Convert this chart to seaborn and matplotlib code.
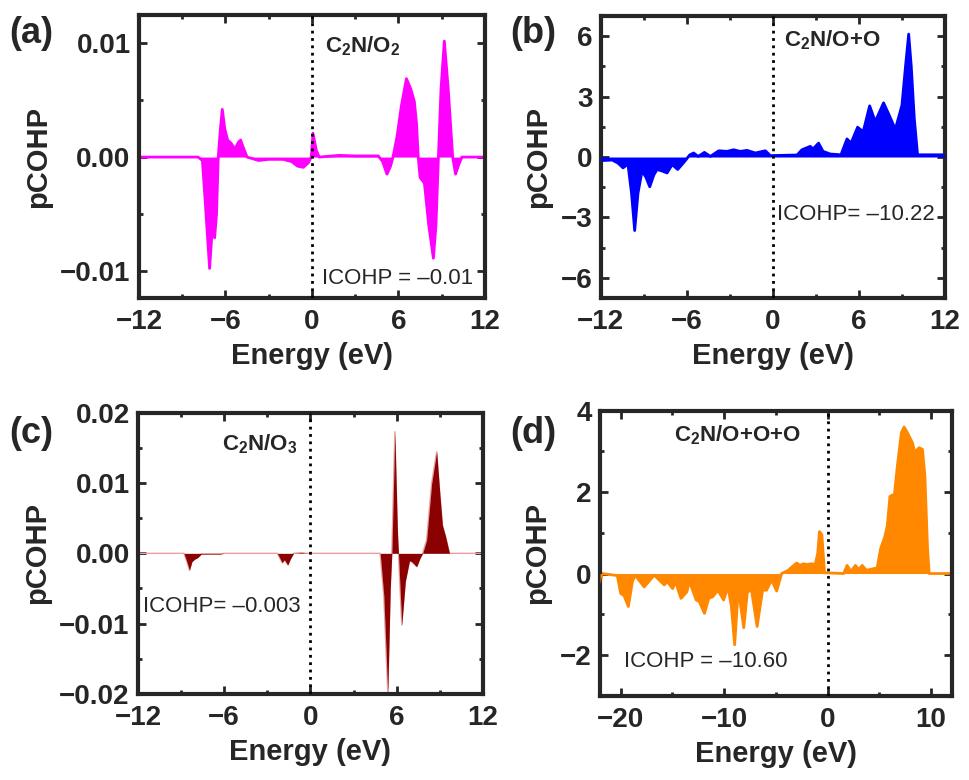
import numpy as np
import pandas as pd
import matplotlib
matplotlib.use('Agg')
import matplotlib.pyplot as plt
import seaborn as sns
from matplotlib.ticker import MultipleLocator

sns.set_style('ticks')
plt.rcParams['font.family'] = ['Liberation Sans', 'DejaVu Sans']
plt.rcParams['mathtext.fontset'] = 'custom'
plt.rcParams['mathtext.rm'] = 'Liberation Sans'
plt.rcParams['mathtext.bf'] = 'Liberation Sans:bold'

# (a) C2N/O2
energy_a = [-12, -7.9, -7.6, -7.4, -7.1, -6.9, -6.75, -6.62, -6.5, -6.35, -6.22, -6.05, -5.85,
            -5.6, -5.35, -5.1, -4.95, -4.75, -4.5, -3.7, -3.0, -2.0, -1.4, -1.0, -0.6, -0.25,
            -0.05, 0.07, 0.3, 0.5, 1.9, 3.0, 4.6, 4.9, 5.2, 5.45, 5.62, 5.9, 6.2, 6.55, 6.85,
            7.1, 7.25, 7.37, 7.5, 7.8, 8.1, 8.42, 8.6, 8.77, 8.95, 9.18, 9.45, 9.76, 9.96,
            10.2, 10.4, 12]
pcohp_a = [0, 0, -0.0003, -0.004, -0.0098, -0.006, -0.0071, -0.005, 0.0, 0.0025, 0.0042,
           0.0025, 0.0015, 0.0012, 0.0007, 0.0013, 0.0015, 0.0008, 0.0, -0.0003, -0.0002,
           -0.0002, -0.0004, -0.0008, -0.0009, -0.0005, 0.0, 0.0021, 0.0006, 0.0, 0.00015,
           0.0001, 0.0001, -0.0004, -0.0015, -0.0008, 0.0, 0.0018, 0.0045, 0.0069, 0.006,
           0.0049, 0.003, 0.0, -0.0018, -0.0023, -0.006, -0.0089, -0.006, 0.0, 0.006, 0.0102,
           0.006, 0.0, -0.0015, -0.0006, 0.0, 0]

# (b) C2N/O+O
energy_b = [-12, -11.2, -10.8, -10.44, -10.1, -9.85, -9.63, -9.4, -9.12, -8.85, -8.58, -8.3,
            -8.07, -7.7, -7.37, -7.02, -6.63, -6.1, -5.8, -5.52, -5.2, -4.77, -4.35, -3.77,
            -3.2, -2.73, -2.27, -1.8, -1.22, -0.52, -0.17, 1.69, 2.03, 2.61, 2.8, 3.19, 3.5,
            4.0, 4.75, 5.17, 5.45, 5.91, 6.3, 6.75, 7.14, 7.72, 8.1, 8.54, 9.0, 9.25, 9.47,
            9.65, 9.86, 10.09, 12]
pcohp_b = [-0.18, -0.15, -0.3, -0.54, -0.35, -1.8, -3.65, -1.8, -0.7, -1.0, -1.48, -0.9,
           -0.62, -0.7, -0.79, -0.38, -0.62, -0.18, 0.1, 0.2, 0.03, 0.23, 0.03, 0.31, 0.28,
           0.36, 0.28, 0.33, 0.2, 0.31, 0.07, 0.1, 0.36, 0.53, 0.4, 0.69, 0.28, 0.15, 0.11,
           0.9, 0.69, 1.48, 1.26, 2.54, 1.76, 2.69, 2.1, 1.38, 2.57, 4.5, 6.1, 4.5, 1.92,
           0.11, 0.11]

# (c) C2N/O3
energy_c = [-12, -8.8, -8.6, -8.42, -8.25, -8.07, -7.84, -7.6, -6.3, -6.0, -2.3, -1.97, -1.81,
            -1.58, -1.4, -1.18, -0.6, -0.3, 4.85, 5.1, 5.38, 5.55, 5.66, 5.87, 6.05, 6.12,
            6.35, 6.6, 6.89, 7.05, 7.39, 7.6, 7.8, 8.08, 8.43, 8.78, 9.0, 9.18, 9.4, 9.67, 12]
pcohp_c = [0, 0, -0.0012, -0.0024, -0.0012, -0.00085, -0.0006, -0.0001, -0.0001, 0, 0,
           -0.00133, -0.0009, -0.00166, -0.0008, 0, 0.0001, 0, 0, -0.006, -0.0199, -0.005, 0,
           0.0173, 0.003, 0, -0.0102, -0.004, -0.00105, -0.0012, -0.0019, -0.0008, 0, 0.0019,
           0.00995, 0.01445, 0.0085, 0.004, 0.0024, 0, 0]

# (d) C2N/O+O+O
energy_d = [-22, -21.8, -20.33, -20.0, -19.68, -19.26, -18.87, -18.61, -17.73, -16.76, -15.79,
            -15.5, -14.98, -14.7, -14.17, -13.6, -13.36, -12.7, -12.4, -11.9, -11.48, -11.1,
            -10.6, -10.05, -9.63, -9.3, -8.98, -8.66, -8.5, -8.1, -7.75, -7.35, -6.81, -6.28,
            -5.9, -5.41, -4.92, -4.44, -3.79, -3.63, -2.98, -2.66, -2.33, -2.0, -1.52, -1.2,
            -0.95, -0.78, -0.55, -0.29, 1.56, 1.89, 2.27, 2.69, 3.0, 3.35, 3.76, 4.8, 5.13,
            5.52, 5.78, 6.03, 6.26, 6.42, 6.75, 7.14, 7.4, 7.72, 8.21, 8.43, 8.85, 9.18, 9.41,
            9.67, 9.83, 12]
pcohp_d = [-0.25, 0, -0.05, -0.49, -0.54, -0.81, -0.2, -0.04, -0.33, -0.04, -0.28, -0.2,
           -0.37, -0.2, -0.61, -0.45, -0.19, -0.65, -0.69, -0.98, -0.61, -0.57, -0.41, -0.65,
           -0.33, -0.8, -1.75, -0.49, -0.6, -1.33, -0.45, -0.41, -1.3, -0.41, -0.41, -0.16,
           -0.43, 0.0, 0.08, 0.12, 0.26, 0.2, 0.24, 0.22, 0.24, 0.22, 0.5, 1.03, 0.95, 0.02,
           0.0, 0.2, 0.05, 0.2, 0.1, 0.2, 0.08, 0.14, 0.61, 0.89, 1.18, 1.89, 1.93, 1.83,
           2.64, 3.46, 3.6, 3.46, 3.21, 2.98, 3.09, 3.05, 2.4, 0.6, 0.0, 0.0]

fig = plt.figure(figsize=(9.69, 7.80), dpi=100)

panels = [
    dict(e=energy_a, p=pcohp_a, color='#FF00FF', line='#FF00FF', lw=2,
         rect=[0.1434, 0.6179, 0.3571, 0.3629],
         xlim=(-12, 12), ylim=(-0.0124, 0.0125), xmaj=6, ymaj=0.01, xmin=3, ymin=0.005, ydec=2,
         letter='(a)', lpos=(0.010, 0.945), name='C$_\\mathbf{2}$N/O$_\\mathbf{2}$', npos=(0.9, 0.0092),
         icohp='ICOHP = \u20130.01', ipos=(0.69, -0.0112)),
    dict(e=energy_b, p=pcohp_b, color='#0000FF', line='#0000FF', lw=2,
         rect=[0.6199, 0.6179, 0.3553, 0.3616],
         xlim=(-12, 12), ylim=(-7, 7), xmaj=6, ymaj=3, xmin=3, ymin=1.5, ydec=0,
         letter='(b)', lpos=(0.527, 0.945), name='C$_\\mathbf{2}$N/O+O', npos=(0.75, 5.5),
         icohp='ICOHP= \u201310.22', ipos=(0.29, -3.13)),
    dict(e=energy_c, p=pcohp_c, color='#8B0000', line='#E8A0A0', lw=1,
         rect=[0.1424, 0.1103, 0.3560, 0.3606],
         xlim=(-12, 12), ylim=(-0.02, 0.02), xmaj=6, ymaj=0.01, xmin=3, ymin=0.005, ydec=2,
         letter='(c)', lpos=(0.010, 0.432), name='C$_\\mathbf{2}$N/O$_\\mathbf{3}$', npos=(-6.14, 0.0147),
         icohp='ICOHP= \u20130.003', ipos=(-11.67, -0.0083)),
    dict(e=energy_d, p=pcohp_d, color='#FF8800', line='#FF8800', lw=2,
         rect=[0.6192, 0.1081, 0.3629, 0.3654],
         xlim=(-22, 12), ylim=(-3, 4), xmaj=10, ymaj=2, xmin=5, ymin=1, ydec=0,
         letter='(d)', lpos=(0.527, 0.432), name='C$_\\mathbf{2}$N/O+O+O', npos=(-14.8, 3.25),
         icohp='ICOHP = \u201310.60', ipos=(-19.68, -2.3)),
]


def minus_fmt(dec):
    return plt.FuncFormatter(lambda v, _: f'{v:.{dec}f}'.replace('-', '\u2212'))


for pan in panels:
    ax = fig.add_axes(pan['rect'])
    df = pd.DataFrame({'Energy': pan['e'], 'pCOHP': pan['p']})
    sns.lineplot(data=df, x='Energy', y='pCOHP', ax=ax, color=pan['line'], lw=pan['lw'],
                 estimator=None, sort=False, zorder=2)
    ax.fill_between(df['Energy'], df['pCOHP'], 0, color=pan['color'], lw=0, zorder=3)
    ax.axvline(0, color='black', ls=':', lw=2, zorder=4)

    ax.set_xlim(*pan['xlim'])
    ax.set_ylim(*pan['ylim'])
    ax.xaxis.set_major_locator(MultipleLocator(pan['xmaj']))
    ax.xaxis.set_minor_locator(MultipleLocator(pan['xmin']))
    ax.yaxis.set_major_locator(MultipleLocator(pan['ymaj']))
    ax.yaxis.set_minor_locator(MultipleLocator(pan['ymin']))
    ax.xaxis.set_major_formatter(minus_fmt(0))
    ax.yaxis.set_major_formatter(minus_fmt(pan['ydec']))

    ax.tick_params(which='both', direction='in', top=True, right=True, width=2)
    ax.tick_params(which='major', length=6, labelsize=20)
    ax.tick_params(axis='x', which='major', pad=8)
    ax.tick_params(axis='y', which='major', pad=6)
    ax.tick_params(which='minor', length=3)
    for lab in ax.get_xticklabels() + ax.get_yticklabels():
        lab.set_fontweight('bold')
    for sp in ax.spines.values():
        sp.set_linewidth(3)

    ax.set_xlabel('Energy (eV)', fontsize=21, fontweight='bold', labelpad=5)
    ax.set_ylabel('pCOHP', fontsize=21, fontweight='bold', labelpad=6)

    ax.text(pan['npos'][0], pan['npos'][1], pan['name'], fontsize=16, fontweight='bold', zorder=5)
    ax.text(pan['ipos'][0], pan['ipos'][1], pan['icohp'], fontsize=16, zorder=5)
    fig.text(pan['lpos'][0], pan['lpos'][1], pan['letter'], fontsize=26, fontweight='bold')

fig.savefig('out.png', dpi=100)
